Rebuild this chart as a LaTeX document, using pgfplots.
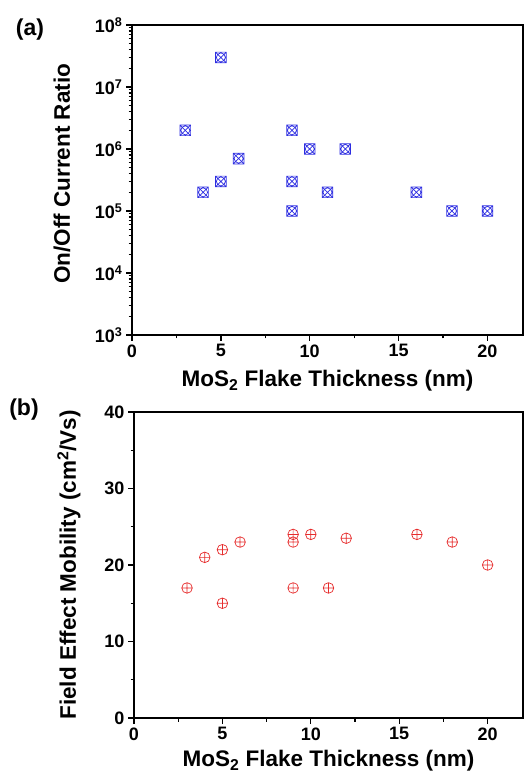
\documentclass[border=0pt]{standalone}
\usepackage{pgfplots}
\pgfplotsset{compat=1.18}
\usepackage{fontspec}
\setmainfont{Liberation Sans}
\definecolor{mblue}{RGB}{45,45,225}
\definecolor{mred}{RGB}{230,45,45}
\pgfdeclareplotmark{sqxo}{%
 \pgfpathrectangle{\pgfpoint{-\pgfplotmarksize}{-\pgfplotmarksize}}{\pgfpoint{2\pgfplotmarksize}{2\pgfplotmarksize}}%
 \pgfpathcircle{\pgfpointorigin}{0.85\pgfplotmarksize}%
 \pgfpathmoveto{\pgfpoint{-\pgfplotmarksize}{-\pgfplotmarksize}}\pgfpathlineto{\pgfpoint{\pgfplotmarksize}{\pgfplotmarksize}}%
 \pgfpathmoveto{\pgfpoint{-\pgfplotmarksize}{\pgfplotmarksize}}\pgfpathlineto{\pgfpoint{\pgfplotmarksize}{-\pgfplotmarksize}}%
 \pgfusepathqstroke}
\pgfdeclareplotmark{oplusm}{%
 \pgfpathcircle{\pgfpointorigin}{\pgfplotmarksize}%
 \pgfpathmoveto{\pgfpoint{-\pgfplotmarksize}{0pt}}\pgfpathlineto{\pgfpoint{\pgfplotmarksize}{0pt}}%
 \pgfpathmoveto{\pgfpoint{0pt}{\pgfplotmarksize}}\pgfpathlineto{\pgfpoint{0pt}{-\pgfplotmarksize}}%
 \pgfusepathqstroke}
\pgfplotsset{
  common/.style={
    scale only axis,
    xmin=0, xmax=22,
    xtick={0,5,10,15,20},
    xticklabels={0,5,10,15,20},
    minor x tick num=1,
    tick align=outside,
    tick pos=left,
    axis line style={line width=2.2pt},
    every tick/.style={black, line width=1.3pt},
    major tick length=6pt,
    minor tick length=3.5pt,
    tick label style={font=\bfseries\fontsize{18}{18}\selectfont},
    label style={font=\bfseries\fontsize{22.5}{22.5}\selectfont},
    clip=false,
  }
}
\begin{document}
\begin{tikzpicture}
\useasboundingbox (0,0) rectangle (523pt,-775pt);
\begin{semilogyaxis}[common,
  at={(132pt,-335pt)}, anchor=south west,
  width=391pt, height=310pt,
  ymin=1e3, ymax=1e8,
  ytick={1e3,1e4,1e5,1e6,1e7,1e8},
  yticklabels={10\textsuperscript{3},10\textsuperscript{4},10\textsuperscript{5},10\textsuperscript{6},10\textsuperscript{7},10\textsuperscript{8}},
  xlabel={MoS\textsubscript{2} Flake Thickness (nm)},
  xlabel style={at={(axis description cs:0.5,-0.165)}, anchor=base},
  ylabel={On/Off Current Ratio},
  ylabel style={at={(axis description cs:-0.179,0.52)}, anchor=center},
]
\addplot[only marks, mark=sqxo, mark size=5.3pt, mblue, line width=0.7pt] coordinates {
 (3,2e6) (4,2e5) (5,3e7) (5,3e5) (6,7e5) (9,2e6) (9,3e5) (9,1e5)
 (10,1e6) (11,2e5) (12,1e6) (16,2e5) (18,1e5) (20,1e5)
};
\end{semilogyaxis}
\begin{axis}[common,
  at={(134pt,-718pt)}, anchor=south west,
  width=389pt, height=306pt,
  ymin=0, ymax=40,
  ytick={0,10,20,30,40},
  yticklabels={0,10,20,30,40},
  minor y tick num=1,
  xlabel={MoS\textsubscript{2} Flake Thickness (nm)},
  xlabel style={at={(axis description cs:0.5,-0.16)}, anchor=base},
  ylabel={Field Effect Mobility (cm\textsuperscript{2}/Vs)},
  ylabel style={at={(axis description cs:-0.167,0.5)}, anchor=center},
]
\addplot[only marks, mark=oplusm, mark size=5.3pt, mred, line width=0.7pt] coordinates {
 (3,17) (4,21) (5,22) (5,15) (6,23) (9,24) (9,23) (9,17)
 (10,24) (11,17) (12,23.5) (16,24) (18,23) (20,20)
};
\end{axis}
\node[font=\bfseries\fontsize{23}{23}\selectfont] at (30pt,-30pt) {(a)};
\node[font=\bfseries\fontsize{23}{23}\selectfont] at (24pt,-410pt) {(b)};
\end{tikzpicture}
\end{document}
